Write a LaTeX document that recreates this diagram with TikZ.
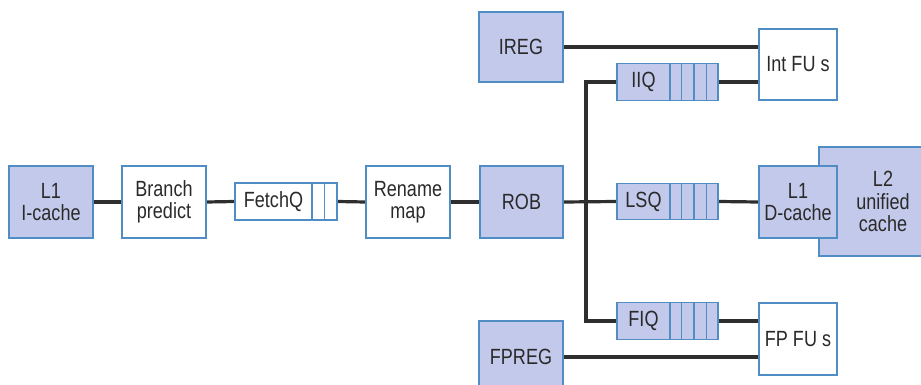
\documentclass[tikz,border=0pt]{standalone}
\usepackage{fontspec}
\setmainfont{Liberation Sans}[FakeStretch=0.82]
\usetikzlibrary{calc,backgrounds}
\definecolor{boxfill}{HTML}{C3C9EA}
\definecolor{boxline}{HTML}{4F8DC4}
\definecolor{wirecol}{HTML}{2E2E2E}
\definecolor{txt}{HTML}{2A2A2A}
\begin{document}
\begin{tikzpicture}[x=1pt,y=-1pt,
  box/.style={draw=boxline, line width=1.2pt, font=\fontsize{22}{22.5}\selectfont,
    text=txt, align=center, inner sep=0pt},
  filled/.style={box, fill=boxfill},
  plain/.style={box, fill=white},
  big/.style={minimum width=84pt, minimum height=72pt},
  fu/.style={minimum width=78pt, minimum height=72pt},
  qlabel/.style={filled, minimum width=53pt, minimum height=36.5pt},
  qcells/.style={filled, minimum width=48pt, minimum height=36.5pt},
  divider/.style={draw=boxline, line width=1.2pt},
  wire/.style={draw=wirecol, line width=3.2pt}]
\useasboundingbox (0,0) rectangle (921,385);
\clip (0,0) rectangle (921,385);

% front end
\node[filled, big] (l1i) at (51,202) {L1\\I-cache};
\node[plain, big] (bp) at (164,202) {Branch\\predict};
\node[plain, minimum width=77pt, minimum height=37pt] (fq) at (273.5,201.5) {FetchQ};
\node[plain, minimum width=25pt, minimum height=37pt] (fqc) at (324.5,201.5) {};
\node[plain, big] (rn) at (408,202) {Rename\\map};
\node[filled, minimum width=83pt, minimum height=72pt] (rob) at (521.5,202) {ROB};

% register files
\node[filled, minimum width=84pt, minimum height=70pt] (ireg) at (521,47) {IREG};
\node[filled, big] (fpreg) at (521,357) {FPREG};

% issue queues
\node[qlabel] (iiq) at (643.5,82) {IIQ};
\node[qcells] (iiqc) at (694,82) {};
\node[qlabel] (lsq) at (643.5,201.5) {LSQ};
\node[qcells] (lsqc) at (694,201.5) {};
\node[qlabel] (fiq) at (643.5,321) {FIQ};
\node[qcells] (fiqc) at (694,321) {};

% functional units and caches
\node[plain, minimum width=78pt, minimum height=71pt] (intfu) at (798,64.5) {Int FU s};
\node[filled, minimum width=128pt, minimum height=109pt, text width=120pt] (l2) at (883,201.5) {L2\\unified\\cache};
\node[filled, fu] (l1d) at (798,202) {L1\\D-cache};
\node[plain, fu] (fpfu) at (798,339) {FP FU s};

% queue dividers
\foreach \q in {iiqc,lsqc,fiqc}{
  \foreach \f in {0.25,0.5,0.75}{
    \draw[divider] ($(\q.north west)!\f!(\q.north east)$) -- ($(\q.south west)!\f!(\q.south east)$);
  }
}
\draw[divider] ($(fqc.north west)!0.5!(fqc.north east)$) -- ($(fqc.south west)!0.5!(fqc.south east)$);

\coordinate (bus) at (586,202);

\begin{pgfonlayer}{background}
\draw[wire] (l1i.east) -- (bp.west);
\draw[wire] (bp.east) -- (fq.west);
\draw[wire] (fqc.east) -- (rn.west);
\draw[wire] (rn.east) -- (rob.west);
\draw[wire] (rob.east) -- (lsq.west);
\draw[wire] (lsqc.east) -- (l1d.west);
\draw[wire] (iiq.west) -| (bus) |- (fiq.west);
\draw[wire] (ireg.east) -- (ireg.east -| intfu.west);
\draw[wire] (iiqc.east) -- (iiqc.east -| intfu.west);
\draw[wire] (fiqc.east) -- (fiqc.east -| fpfu.west);
\draw[wire] (fpreg.east) -- (fpreg.east -| fpfu.west);
\end{pgfonlayer}
\end{tikzpicture}
\end{document}
